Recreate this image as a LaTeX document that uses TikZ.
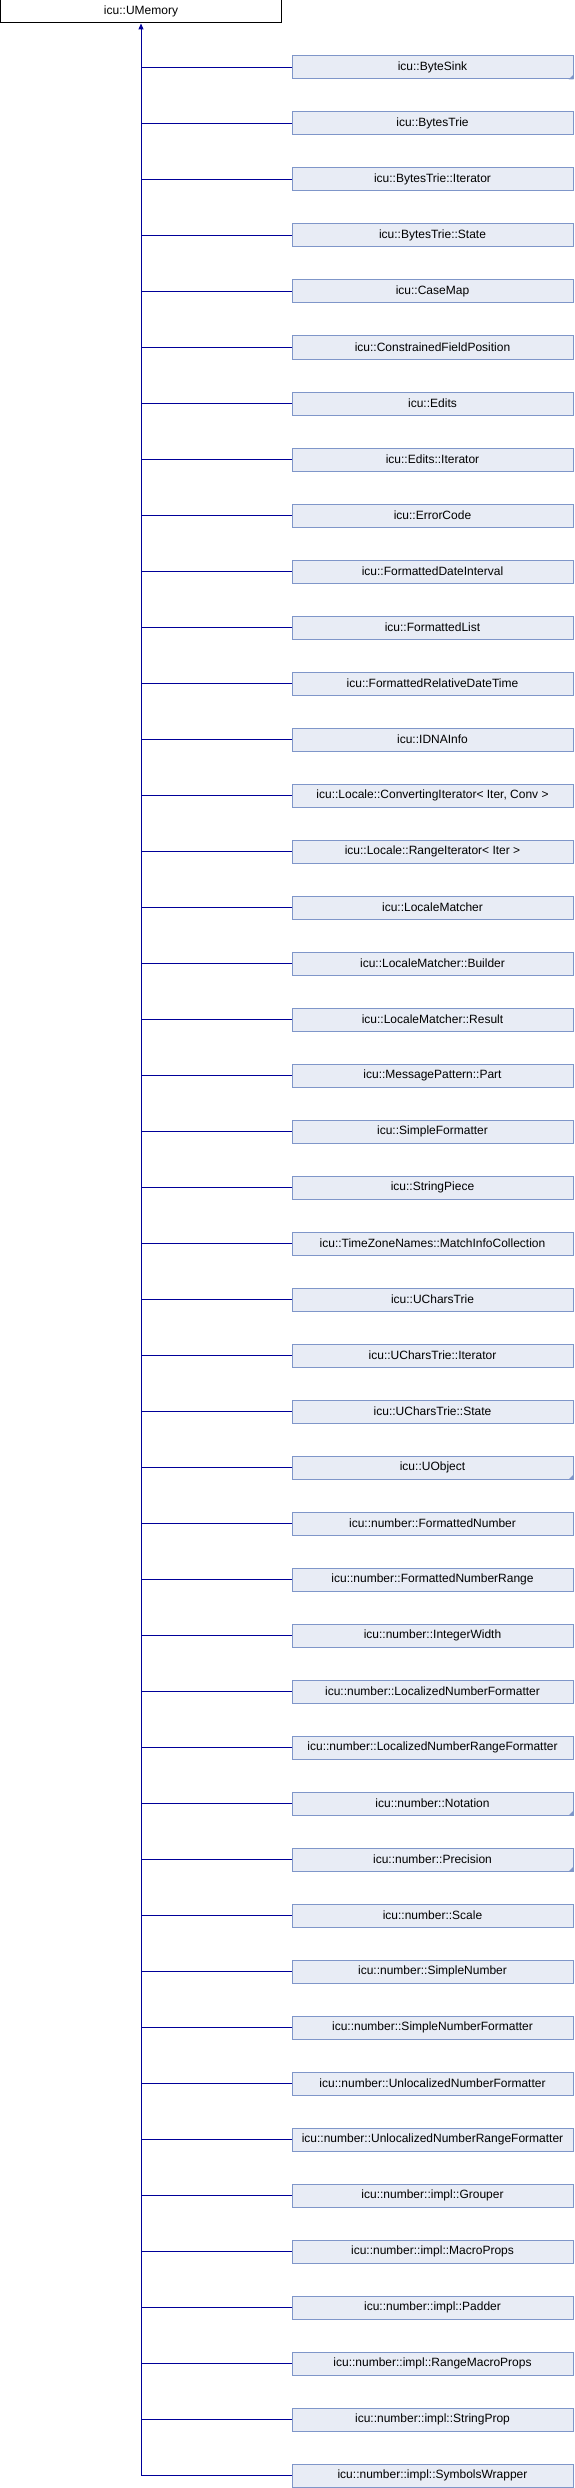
\documentclass[tikz,border=0pt]{standalone}
\usepackage{fontspec}
\setmainfont{Liberation Sans}
\usetikzlibrary{arrows.meta}
\definecolor{boxfill}{HTML}{E8ECF5}
\definecolor{boxline}{HTML}{7F96C9}
\definecolor{edgeblue}{HTML}{000099}
\tikzset{
  cls/.style={draw=boxline, fill=boxfill, line width=1pt, minimum width=281pt, minimum height=23pt, inner sep=0pt, font=\fontsize{12}{14}\selectfont},
  base/.style={draw=black, fill=white, line width=1pt, minimum width=281pt, minimum height=23pt, inner sep=0pt, font=\fontsize{12}{14}\selectfont},
  edge/.style={draw=edgeblue, line width=1pt},
  more/.style={fill=boxline}
}
\begin{document}
\begin{tikzpicture}[x=1pt, y=-1pt]
\useasboundingbox (0,0) rectangle (574,2488);
\node[base] (umem) at (141,11.5) {icu::UMemory};

\node[cls] (bytesink) at (432.5,67.5) {icu::ByteSink};
\node[cls] (bytestrie) at (432.5,123.5) {icu::BytesTrie};
\node[cls] (bytestrieit) at (432.5,179.5) {icu::BytesTrie::Iterator};
\node[cls] (bytestriest) at (432.5,235.5) {icu::BytesTrie::State};
\node[cls] (casemap) at (432.5,291.5) {icu::CaseMap};
\node[cls] (cfpos) at (432.5,347.5) {icu::ConstrainedFieldPosition};
\node[cls] (edits) at (432.5,403.5) {icu::Edits};
\node[cls] (editsit) at (432.5,459.5) {icu::Edits::Iterator};
\node[cls] (errcode) at (432.5,515.5) {icu::ErrorCode};
\node[cls] (fdateint) at (432.5,571.5) {icu::FormattedDateInterval};
\node[cls] (flist) at (432.5,627.5) {icu::FormattedList};
\node[cls] (freldt) at (432.5,683.5) {icu::FormattedRelativeDateTime};
\node[cls] (idnainfo) at (432.5,739.5) {icu::IDNAInfo};
\node[cls] (convit) at (432.5,795.5) {icu::Locale::ConvertingIterator< Iter, Conv >};
\node[cls] (rangeit) at (432.5,851.5) {icu::Locale::RangeIterator< Iter >};
\node[cls] (lmatch) at (432.5,907.5) {icu::LocaleMatcher};
\node[cls] (lmbuild) at (432.5,963.5) {icu::LocaleMatcher::Builder};
\node[cls] (lmres) at (432.5,1019.5) {icu::LocaleMatcher::Result};
\node[cls] (msgpart) at (432.5,1075.5) {icu::MessagePattern::Part};
\node[cls] (simplefmt) at (432.5,1131.5) {icu::SimpleFormatter};
\node[cls] (strpiece) at (432.5,1187.5) {icu::StringPiece};
\node[cls] (tzmatch) at (432.5,1243.5) {icu::TimeZoneNames::MatchInfoCollection};
\node[cls] (ucharstrie) at (432.5,1299.5) {icu::UCharsTrie};
\node[cls] (ucharstrieit) at (432.5,1355.5) {icu::UCharsTrie::Iterator};
\node[cls] (ucharstriest) at (432.5,1411.5) {icu::UCharsTrie::State};
\node[cls] (uobject) at (432.5,1467.5) {icu::UObject};
\node[cls] (fnum) at (432.5,1523.5) {icu::number::FormattedNumber};
\node[cls] (fnumrange) at (432.5,1579.5) {icu::number::FormattedNumberRange};
\node[cls] (intwidth) at (432.5,1635.5) {icu::number::IntegerWidth};
\node[cls] (locfmt) at (432.5,1691.5) {icu::number::LocalizedNumberFormatter};
\node[cls] (locrangefmt) at (432.5,1747.5) {icu::number::LocalizedNumberRangeFormatter};
\node[cls] (notation) at (432.5,1803.5) {icu::number::Notation};
\node[cls] (precision) at (432.5,1859.5) {icu::number::Precision};
\node[cls] (scale) at (432.5,1915.5) {icu::number::Scale};
\node[cls] (simplenum) at (432.5,1971.5) {icu::number::SimpleNumber};
\node[cls] (simplenumfmt) at (432.5,2027.5) {icu::number::SimpleNumberFormatter};
\node[cls] (unlocfmt) at (432.5,2083.5) {icu::number::UnlocalizedNumberFormatter};
\node[cls] (unlocrangefmt) at (432.5,2139.5) {icu::number::UnlocalizedNumberRangeFormatter};
\node[cls] (grouper) at (432.5,2195.5) {icu::number::impl::Grouper};
\node[cls] (macroprops) at (432.5,2251.5) {icu::number::impl::MacroProps};
\node[cls] (padder) at (432.5,2307.5) {icu::number::impl::Padder};
\node[cls] (rangemacro) at (432.5,2363.5) {icu::number::impl::RangeMacroProps};
\node[cls] (strprop) at (432.5,2419.5) {icu::number::impl::StringProp};
\node[cls] (symwrap) at (432.5,2475.5) {icu::number::impl::SymbolsWrapper};

% marks for classes with further children
\fill[more] (bytesink.south east) -- ++(-5,0) -- ++(5,-5) -- cycle;
\fill[more] (uobject.south east) -- ++(-5,0) -- ++(5,-5) -- cycle;
\fill[more] (notation.south east) -- ++(-5,0) -- ++(5,-5) -- cycle;
\fill[more] (precision.south east) -- ++(-5,0) -- ++(5,-5) -- cycle;

% trunk up to the base class
\path[edge,-{Triangle[length=6pt,width=5pt]}] (umem.south |- symwrap.west) -- (umem.south);

\path[edge] (umem.south |- bytesink.west) -- (bytesink.west);
\path[edge] (umem.south |- bytestrie.west) -- (bytestrie.west);
\path[edge] (umem.south |- bytestrieit.west) -- (bytestrieit.west);
\path[edge] (umem.south |- bytestriest.west) -- (bytestriest.west);
\path[edge] (umem.south |- casemap.west) -- (casemap.west);
\path[edge] (umem.south |- cfpos.west) -- (cfpos.west);
\path[edge] (umem.south |- edits.west) -- (edits.west);
\path[edge] (umem.south |- editsit.west) -- (editsit.west);
\path[edge] (umem.south |- errcode.west) -- (errcode.west);
\path[edge] (umem.south |- fdateint.west) -- (fdateint.west);
\path[edge] (umem.south |- flist.west) -- (flist.west);
\path[edge] (umem.south |- freldt.west) -- (freldt.west);
\path[edge] (umem.south |- idnainfo.west) -- (idnainfo.west);
\path[edge] (umem.south |- convit.west) -- (convit.west);
\path[edge] (umem.south |- rangeit.west) -- (rangeit.west);
\path[edge] (umem.south |- lmatch.west) -- (lmatch.west);
\path[edge] (umem.south |- lmbuild.west) -- (lmbuild.west);
\path[edge] (umem.south |- lmres.west) -- (lmres.west);
\path[edge] (umem.south |- msgpart.west) -- (msgpart.west);
\path[edge] (umem.south |- simplefmt.west) -- (simplefmt.west);
\path[edge] (umem.south |- strpiece.west) -- (strpiece.west);
\path[edge] (umem.south |- tzmatch.west) -- (tzmatch.west);
\path[edge] (umem.south |- ucharstrie.west) -- (ucharstrie.west);
\path[edge] (umem.south |- ucharstrieit.west) -- (ucharstrieit.west);
\path[edge] (umem.south |- ucharstriest.west) -- (ucharstriest.west);
\path[edge] (umem.south |- uobject.west) -- (uobject.west);
\path[edge] (umem.south |- fnum.west) -- (fnum.west);
\path[edge] (umem.south |- fnumrange.west) -- (fnumrange.west);
\path[edge] (umem.south |- intwidth.west) -- (intwidth.west);
\path[edge] (umem.south |- locfmt.west) -- (locfmt.west);
\path[edge] (umem.south |- locrangefmt.west) -- (locrangefmt.west);
\path[edge] (umem.south |- notation.west) -- (notation.west);
\path[edge] (umem.south |- precision.west) -- (precision.west);
\path[edge] (umem.south |- scale.west) -- (scale.west);
\path[edge] (umem.south |- simplenum.west) -- (simplenum.west);
\path[edge] (umem.south |- simplenumfmt.west) -- (simplenumfmt.west);
\path[edge] (umem.south |- unlocfmt.west) -- (unlocfmt.west);
\path[edge] (umem.south |- unlocrangefmt.west) -- (unlocrangefmt.west);
\path[edge] (umem.south |- grouper.west) -- (grouper.west);
\path[edge] (umem.south |- macroprops.west) -- (macroprops.west);
\path[edge] (umem.south |- padder.west) -- (padder.west);
\path[edge] (umem.south |- rangemacro.west) -- (rangemacro.west);
\path[edge] (umem.south |- strprop.west) -- (strprop.west);
\path[edge] (umem.south |- symwrap.west) -- (symwrap.west);
\end{tikzpicture}
\end{document}
